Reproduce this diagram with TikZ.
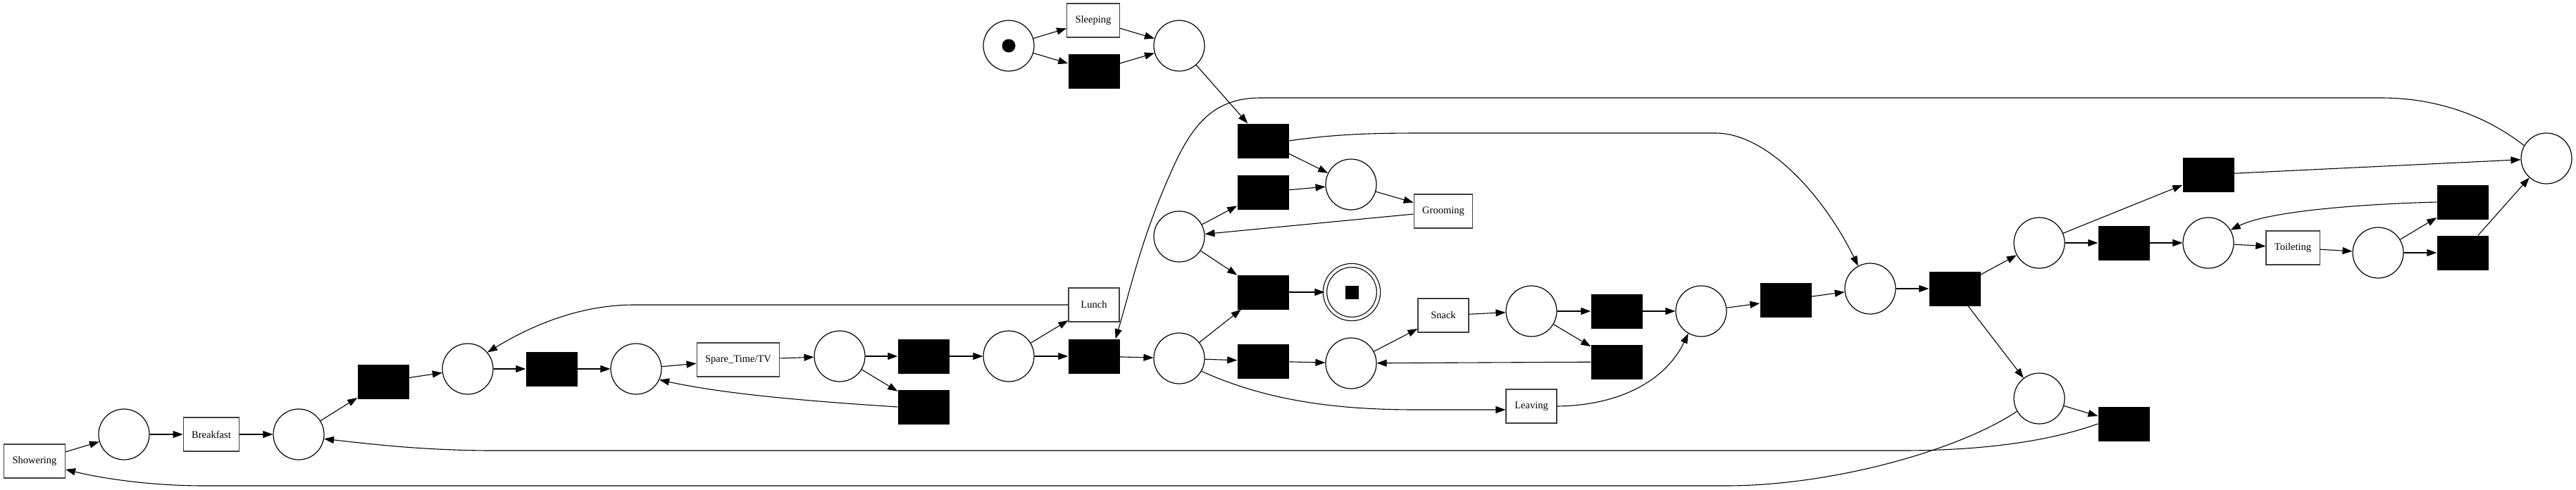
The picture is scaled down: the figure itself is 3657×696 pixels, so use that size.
\documentclass[tikz,border=0pt]{standalone}
\usepackage{fontspec}
\setmainfont{Liberation Serif}
\usetikzlibrary{arrows.meta}

\begin{document}
\begin{tikzpicture}[
        x=1pt, y=-1pt,
        place/.style={circle, draw=black, line width=1.2pt, minimum size=72pt, inner sep=0pt},
        final place/.style={place, double, double distance=4pt, minimum size=76pt},
        tok/.style={circle, fill=black, minimum size=19pt, inner sep=0pt},
        tok box/.style={rectangle, fill=black, minimum size=19pt, inner sep=0pt},
        silent/.style={rectangle, fill=black, minimum width=73pt, minimum height=49pt, inner sep=0pt},
        activity/.style={rectangle, draw=black!75, line width=1.2pt, fill=white, minimum width=72pt, minimum height=48pt, inner xsep=12pt, font=\fontsize{14.5}{17}\selectfont},
        flow/.style={line width=1.1pt, draw=black, -{Triangle[length=14pt, width=10pt]}}
    ]

        \useasboundingbox (0,0) rectangle (3657,696);

        % start and the morning
        \node[place] (p0) at (1432, 65) {};
        \node[tok] (p0tok) at (p0) {};
        \node[activity] (sleeping) at (1552, 29) {Sleeping};
        \node[silent] (ts) at (1553, 101) {};
        \node[place] (p7) at (1674, 65) {};
        \node[silent] (t6) at (1793, 200) {};
        \node[silent] (t7) at (1793, 273) {};
        \node[place] (p8) at (1918, 262) {};
        \node[activity] (grooming) at (2049, 300) {Grooming};
        \node[place] (p9) at (1674, 336) {};
        \node[silent] (t8) at (1793, 415) {};
        \node[final place] (pf) at (1919, 415) {};
        \node[tok box] (pftok) at (pf) {};

        % left branch
        \node[activity] (showering) at (49, 655) {Showering};
        \node[place] (p1) at (176, 617) {};
        \node[activity] (breakfast) at (300, 617) {Breakfast};
        \node[place] (p2) at (424, 617) {};
        \node[silent] (t1) at (544, 542) {};
        \node[place] (p3) at (664, 524) {};
        \node[silent] (t2) at (783, 524) {};
        \node[place] (p4) at (903, 524) {};
        \node[activity] (spare) at (1048, 511) {Spare\_Time/TV};
        \node[place] (p5) at (1192, 506) {};
        \node[silent] (t3) at (1311, 506) {};
        \node[silent] (t4) at (1311, 578) {};
        \node[place] (p6) at (1432, 506) {};
        \node[activity] (lunch) at (1553, 433) {Lunch};
        \node[silent] (t5) at (1553, 506) {};

        % middle branch
        \node[place] (p10) at (1674, 509) {};
        \node[silent] (t9) at (1793, 513) {};
        \node[place] (p11) at (1918, 516) {};
        \node[activity] (snack) at (2049, 448) {Snack};
        \node[place] (p12) at (2174, 442) {};
        \node[silent] (t10) at (2295, 442) {};
        \node[silent] (t11) at (2295, 514) {};
        \node[activity] (leaving) at (2174, 577) {Leaving};
        \node[place] (p13) at (2415, 442) {};
        \node[silent] (t12) at (2535, 426) {};
        \node[place] (p14) at (2655, 410) {};
        \node[silent] (t13) at (2775, 410) {};

        % right branch
        \node[place] (p15) at (2895, 345) {};
        \node[silent] (t14) at (3135, 248) {};
        \node[silent] (t15) at (3015, 345) {};
        \node[place] (p16) at (3135, 345) {};
        \node[activity] (toileting) at (3255, 352) {Toileting};
        \node[place] (p17) at (3376, 359) {};
        \node[silent] (t16) at (3496, 287) {};
        \node[silent] (t17) at (3496, 359) {};
        \node[place] (p18) at (3615, 225) {};
        \node[place] (p19) at (2895, 566) {};
        \node[silent] (t18) at (3015, 602) {};

        \draw[flow] (p0) -- (sleeping);
        \draw[flow] (p0) -- (ts);
        \draw[flow] (sleeping) -- (p7);
        \draw[flow] (ts) -- (p7);
        \draw[flow] (p7) -- (t6);
        \draw[flow] (t6) -- (p8);
        \draw[flow] (t7) -- (p8);
        \draw[flow] (p8) -- (grooming);
        \draw[flow] (grooming) -- (p9);
        \draw[flow] (p9) -- (t7);
        \draw[flow] (p9) -- (t8);
        \draw[flow] (t8) -- (pf);

        \draw[flow] (showering) -- (p1);
        \draw[flow] (p1) -- (breakfast);
        \draw[flow] (breakfast) -- (p2);
        \draw[flow] (p2) -- (t1);
        \draw[flow] (t1) -- (p3);
        \draw[flow] (p3) -- (t2);
        \draw[flow] (t2) -- (p4);
        \draw[flow] (p4) -- (spare);
        \draw[flow] (spare) -- (p5);
        \draw[flow] (p5) -- (t3);
        \draw[flow] (p5) -- (t4);
        \draw[flow] (t3) -- (p6);
        \draw[flow] (p6) -- (lunch);
        \draw[flow] (p6) -- (t5);
        \draw[flow] (lunch.west) -- (900, 433) .. controls (820, 433) and (750, 465) .. (p3.40);
        \draw[flow] (t4.west) .. controls (1150, 570) and (1030, 560) .. (p4.-25);

        \draw[flow] (t5) -- (p10);
        \draw[flow] (p10) -- (t8);
        \draw[flow] (p10) -- (t9);
        \draw[flow] (t9) -- (p11);
        \draw[flow] (p11) -- (snack);
        \draw[flow] (snack) -- (p12);
        \draw[flow] (p12) -- (t10);
        \draw[flow] (p12) -- (t11);
        \draw[flow] (t10) -- (p13);
        \draw[flow] (t11) -- (p11);
        \draw[flow] (p10.-30) .. controls (1800, 570) and (1900, 582) .. (2010, 582) -- (leaving.west |- 0, 582);
        \draw[flow] (leaving.east) .. controls (2300, 576) and (2365, 540) .. (p13.240);
        \draw[flow] (p13) -- (t12);
        \draw[flow] (t12) -- (p14);
        \draw[flow] (p14) -- (t13);

        \draw[flow] (t13) -- (p15);
        \draw[flow] (t13) -- (p19);
        \draw[flow] (p15) -- (t14);
        \draw[flow] (p15) -- (t15);
        \draw[flow] (t15) -- (p16);
        \draw[flow] (p16) -- (toileting);
        \draw[flow] (toileting) -- (p17);
        \draw[flow] (p17) -- (t16);
        \draw[flow] (p17) -- (t17);
        \draw[flow] (t17) -- (p18);
        \draw[flow] (t14) -- (p18);
        \draw[flow] (t16.west) .. controls (3350, 290) and (3220, 300) .. (p16.30);
        \draw[flow] (p19) -- (t18);

        % long loops
        \draw[flow] (t6.east) .. controls (1900, 190) and (1950, 189) .. (2023, 189) -- (2435, 189)
                    .. controls (2510, 189) and (2590, 280) .. (p14.118);
        \draw[flow] (p18.150) .. controls (3530, 165) and (3460, 139) .. (3380, 139) -- (1790, 139)
                    .. controls (1720, 139) and (1690, 180) .. (1660, 250)
                    .. controls (1620, 340) and (1605, 410) .. ([xshift=-6pt]t5.north east);
        \draw[flow] (t18.west) .. controls (2900, 630) and (2800, 640) .. (2700, 640) -- (700, 640)
                    .. controls (600, 640) and (520, 630) .. (p2.-10);
        \draw[flow] (p19.210) .. controls (2780, 640) and (2600, 690) .. (2450, 690) -- (290, 690)
                    .. controls (200, 690) and (130, 676) .. (showering.-15);
    \end{tikzpicture}
\end{document}
